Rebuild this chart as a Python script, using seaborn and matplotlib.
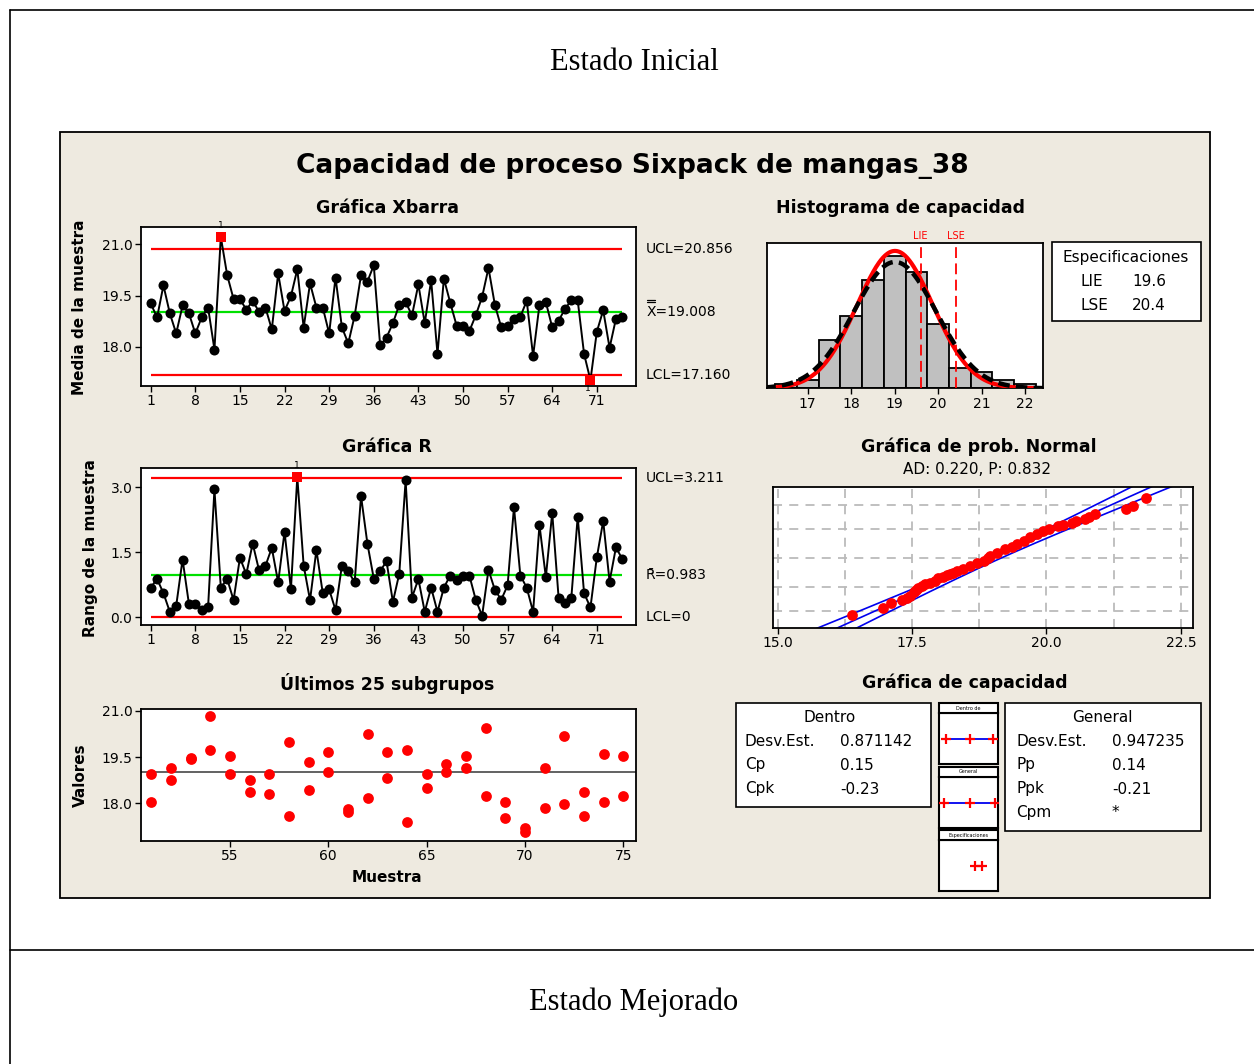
import math
import numpy as np
import pandas as pd
import matplotlib
matplotlib.use("Agg")
import matplotlib.pyplot as plt
import matplotlib.transforms as mtransforms
from matplotlib.patches import Rectangle
from matplotlib.lines import Line2D
import seaborn as sns

sns.set_style("white")
plt.rcParams["font.family"] = ["DejaVu Sans"]
plt.rcParams["text.color"] = "black"
plt.rcParams["axes.labelcolor"] = "black"
plt.rcParams["xtick.color"] = "black"
plt.rcParams["ytick.color"] = "black"

# ---------------- data ----------------
samples = list(range(1, 76))
xbar = [19.27, 18.86, 19.80, 18.98, 18.39, 19.21, 18.98, 18.39, 18.86, 19.15,
        17.92, 21.22, 20.10, 19.40, 19.40, 19.09, 19.34, 19.03, 19.15, 18.51,
        20.15, 19.05, 19.48, 20.27, 18.56, 19.86, 19.15, 19.15, 18.39, 20.03,
        18.57, 18.10, 18.91, 20.10, 19.91, 20.39, 18.04, 18.27, 18.69, 19.23,
        19.31, 18.92, 19.83, 18.69, 19.95, 17.79, 20.00, 19.29, 18.62, 18.62,
        18.46, 18.92, 19.46, 20.31, 19.23, 18.57, 18.62, 18.81, 18.88, 19.35,
        17.73, 19.23, 19.31, 18.57, 18.76, 19.11, 19.36, 19.36, 17.79, 17.02,
        18.44, 19.07, 17.97, 18.82, 18.87]
ranges = [0.68, 0.88, 0.55, 0.12, 0.26, 1.33, 0.30, 0.30, 0.16, 0.22,
          2.95, 0.68, 0.88, 0.39, 1.37, 0.99, 1.70, 1.08, 1.18, 1.60,
          0.80, 1.97, 0.64, 3.24, 1.19, 0.39, 1.55, 0.55, 0.64, 0.16,
          1.19, 1.06, 0.80, 2.80, 1.70, 0.89, 1.06, 1.29, 0.35, 1.00,
          3.16, 0.45, 0.88, 0.12, 0.68, 0.12, 0.68, 0.96, 0.86, 0.94,
          0.96, 0.40, 0.03, 1.09, 0.63, 0.40, 0.73, 2.54, 0.96, 0.68,
          0.12, 2.13, 0.92, 2.41, 0.45, 0.32, 0.45, 2.32, 0.55, 0.22,
          1.38, 2.22, 0.82, 1.61, 1.34]
xbar_ucl, xbar_cl, xbar_lcl = 20.856, 19.008, 17.160
r_ucl, r_cl, r_lcl = 3.211, 0.983, 0.0

last_samples = list(range(51, 76))
last_v1 = [18.95, 19.14, 19.46, 20.83, 19.53, 18.75, 18.95, 19.98, 19.33, 19.65,
           17.81, 20.24, 19.65, 19.73, 18.95, 19.28, 19.54, 20.44, 18.04, 17.21,
           19.13, 20.19, 18.37, 19.60, 19.53]
last_v2 = [18.04, 18.75, 19.44, 19.72, 18.95, 18.37, 18.29, 17.59, 18.43, 19.02,
           17.72, 18.17, 18.82, 17.40, 18.50, 19.02, 19.13, 18.24, 17.53, 17.06,
           17.85, 17.98, 17.59, 18.04, 18.24]

hist_edges = [16.25, 16.75, 17.25, 17.75, 18.25, 18.75, 19.25, 19.75,
              20.25, 20.75, 21.25, 21.75, 22.25]
hist_counts = [1, 2, 12, 18, 27, 33, 29, 16, 5, 4, 2, 1]
hist_ticks = [17, 18, 19, 20, 21, 22]

lie, lse = 19.6, 20.4
mean_all = 19.008
sd_within = 0.871142
sd_overall = 0.947235
n_obs = 150

prob_values = [16.39, 16.96, 17.11, 17.32, 17.40, 17.47, 17.53, 17.58, 17.62, 17.68,
               17.75, 17.84, 17.93, 17.99, 18.08, 18.15, 18.21, 18.27, 18.33, 18.45,
               18.58, 18.70, 18.83, 18.92, 18.95, 19.08, 19.23, 19.35, 19.45, 19.58,
               19.70, 19.82, 19.94, 20.05, 20.22, 20.30, 20.47, 20.55, 20.72, 20.80,
               20.91, 21.48, 21.61, 21.85]
prob_pct = [0.6, 1.5, 2.4, 3.4, 4.2, 5.0, 6.7, 7.8, 9.5, 11.0,
            12.7, 14.0, 15.4, 18.7, 20.5, 22.5, 24.2, 26.0, 28.1, 32.0,
            35.9, 40.5, 45.2, 50.5, 54.0, 59.0, 65.2, 69.0, 72.9, 77.0,
            81.6, 85.0, 88.3, 90.0, 92.1, 92.8, 93.7, 94.5, 95.5, 96.3,
            97.3, 98.3, 98.9, 99.56]
prob_grid_pct = [1, 10, 50, 90, 99]
prob_xticks = [15.0, 17.5, 20.0, 22.5]

within_rows = [("Desv.Est.", "0.871142"), ("Cp", "0.15"), ("Cpk", "-0.23")]
overall_rows = [("Desv.Est.", "0.947235"), ("Pp", "0.14"), ("Ppk", "-0.21"), ("Cpm", "*")]

# ---------------- helpers ----------------
W, H = 1254, 1064
fig = plt.figure(figsize=(W / 100, H / 100), dpi=100, facecolor="white")


def px_ax(x0, y0, x1, y1):
    return fig.add_axes([x0 / W, 1 - y1 / H, (x1 - x0) / W, (y1 - y0) / H])


def ftext(x, y, s, **kw):
    return fig.text(x / W, 1 - y / H, s, **kw)


def fbox(x0, y0, x1, y1, fc="white", lw=1.2, z=1):
    r = Rectangle((x0 / W, 1 - y1 / H), (x1 - x0) / W, (y1 - y0) / H,
                  transform=fig.transFigure, facecolor=fc, edgecolor="black",
                  lw=lw, zorder=z)
    fig.add_artist(r)


def fline(x0, y0, x1, y1, lw=1.2, z=2):
    fig.add_artist(Line2D([x0 / W, x1 / W], [1 - y0 / H, 1 - y1 / H],
                          transform=fig.transFigure, color="black", lw=lw,
                          zorder=z))


def style_ax(ax, left=True, bottom=True):
    for s in ax.spines.values():
        s.set_color("black")
        s.set_linewidth(1.3)
        s.set_visible(True)
    ax.set_facecolor("white")
    ax.tick_params(axis="both", direction="out", length=4, width=1, color="black",
                   labelsize=10, labelcolor="black", pad=2,
                   left=left, bottom=bottom, right=False, top=False,
                   labelleft=left, labelbottom=bottom)
    ax.set_xlabel("")
    ax.set_ylabel("")


def norm_pdf(x, mu, sd):
    return np.exp(-0.5 * ((x - mu) / sd) ** 2) / (sd * math.sqrt(2 * math.pi))


_zgrid = np.linspace(-7, 7, 28001)
_cdf = np.array([0.5 * (1 + math.erf(z / math.sqrt(2))) for z in _zgrid])


def ppf(p):
    return np.interp(np.asarray(p, dtype=float), _cdf, _zgrid)


def bar_label(ax, yval, txt):
    tr = mtransforms.blended_transform_factory(ax.transAxes, ax.transData)
    ax.text(1.021, yval, txt, transform=tr, va="center", fontsize=10,
            color="black")


# ---------------- page frame ----------------
fline(10, 10, 1254, 10)
fline(10, 10, 10, 1064)
fline(10, 950, 1254, 950)
ftext(634, 63, "Estado Inicial", ha="center", va="center", fontsize=22,
      family="Liberation Serif")
ftext(634, 1002, "Estado Mejorado", ha="center", va="center", fontsize=22,
      family="Liberation Serif")

fbox(60, 132, 1210, 898, fc="#EEEAE0", lw=1.3, z=-5)
ftext(632, 166, "Capacidad de proceso Sixpack de mangas_38", ha="center",
      va="center", fontsize=19, fontweight="bold")

black_kw = dict(color="black", s=52, linewidth=0, zorder=4)
red_sq_kw = dict(color="red", marker="s", s=52, linewidth=0, zorder=5)

# ---------------- Xbar chart ----------------
ax = px_ax(140.7, 226.7, 635.7, 386)
df_x = pd.DataFrame({"m": samples, "v": xbar})
ooc_x = (df_x["v"] > xbar_ucl) | (df_x["v"] < xbar_lcl)
ax.hlines([xbar_ucl, xbar_lcl], 1, 75, color="red", lw=1.6, zorder=2)
ax.hlines(xbar_cl, 1, 75, color="#00E000", lw=1.6, zorder=2)
sns.lineplot(data=df_x, x="m", y="v", ax=ax, color="black", lw=1.4, zorder=3)
sns.scatterplot(data=df_x[~ooc_x], x="m", y="v", ax=ax, **black_kw)
sns.scatterplot(data=df_x[ooc_x], x="m", y="v", ax=ax, **red_sq_kw)
for _, r in df_x[ooc_x].iterrows():
    up = r["v"] > xbar_ucl
    ax.annotate("1", (r["m"], r["v"]), xytext=(0, 5) if up else (-2, -3),
                textcoords="offset points", ha="center",
                va="bottom" if up else "top", fontsize=6.5, annotation_clip=False)
ax.set_xlim(-0.57, 77.1)
ax.set_ylim(16.85, 21.52)
ax.set_xticks(list(range(1, 72, 7)))
ax.set_yticks([18.0, 19.5, 21.0])
ax.set_yticklabels(["18.0", "19.5", "21.0"])
style_ax(ax)
bar_label(ax, xbar_ucl, "UCL=20.856")
bar_label(ax, xbar_cl, "X=19.008")
bar_label(ax, xbar_lcl, "LCL=17.160")
# double bar over the X of the grand-mean label
fline(647, 299.5, 655, 299.5, lw=0.9)
fline(647, 302.2, 655, 302.2, lw=0.9)
ftext(387, 208, "Gráfica Xbarra", ha="center", va="center", fontsize=12.5,
      fontweight="bold")
ftext(80, 307, "Media de la muestra", ha="center", va="center", rotation=90,
      fontsize=11, fontweight="bold")

# ---------------- R chart ----------------
ax = px_ax(140.7, 468.3, 635.7, 625)
df_r = pd.DataFrame({"m": samples, "v": ranges})
ooc_r = df_r["v"] > r_ucl
ax.hlines([r_ucl, r_lcl], 1, 75, color="red", lw=1.6, zorder=2)
ax.hlines(r_cl, 1, 75, color="#00E000", lw=1.6, zorder=2)
sns.lineplot(data=df_r, x="m", y="v", ax=ax, color="black", lw=1.4, zorder=3)
sns.scatterplot(data=df_r[~ooc_r], x="m", y="v", ax=ax, **black_kw)
sns.scatterplot(data=df_r[ooc_r], x="m", y="v", ax=ax, **red_sq_kw)
for _, r in df_r[ooc_r].iterrows():
    ax.annotate("1", (r["m"], r["v"]), xytext=(0, 5), textcoords="offset points",
                ha="center", va="bottom", fontsize=6.5, annotation_clip=False)
ax.set_xlim(-0.57, 77.1)
ax.set_ylim(-0.185, 3.44)
ax.set_xticks(list(range(1, 72, 7)))
ax.set_yticks([0.0, 1.5, 3.0])
ax.set_yticklabels(["0.0", "1.5", "3.0"])
style_ax(ax)
bar_label(ax, r_ucl, "UCL=3.211")
bar_label(ax, r_cl, "R\u0304=0.983")
bar_label(ax, r_lcl, "LCL=0")
ftext(387, 447, "Gráfica R", ha="center", va="center", fontsize=12.5,
      fontweight="bold")
ftext(90, 548, "Rango de la muestra", ha="center", va="center", rotation=90,
      fontsize=11, fontweight="bold")

# ---------------- last 25 subgroups ----------------
ax = px_ax(141, 709.3, 635.7, 841)
df_l = pd.DataFrame({"m": last_samples * 2, "v": last_v1 + last_v2})
ax.axhline(xbar_cl, color="#555555", lw=1.3, zorder=2)
sns.scatterplot(data=df_l, x="m", y="v", ax=ax, color="red", s=60, linewidth=0,
                zorder=4)
ax.set_xlim(50.48, 75.63)
ax.set_ylim(16.78, 21.045)
ax.set_xticks([55, 60, 65, 70, 75])
ax.set_yticks([18.0, 19.5, 21.0])
ax.set_yticklabels(["18.0", "19.5", "21.0"])
style_ax(ax)
ftext(387, 683, "Últimos 25 subgrupos", ha="center", va="center", fontsize=12.5,
      fontweight="bold")
ftext(80, 775, "Valores", ha="center", va="center", rotation=90, fontsize=11,
      fontweight="bold")
ftext(387, 878, "Muestra", ha="center", va="center", fontsize=11,
      fontweight="bold")

# ---------------- capability histogram ----------------
ax = px_ax(767.3, 242.7, 1043.3, 388.3)
centers = [(a + b) / 2 for a, b in zip(hist_edges[:-1], hist_edges[1:])]
sns.histplot(x=centers, weights=hist_counts, bins=hist_edges, ax=ax,
             color="#C0C0C0", edgecolor="black", linewidth=1.3, alpha=1)
bw = hist_edges[1] - hist_edges[0]
xs = np.linspace(16.0, 22.5, 400)
ax.plot(xs, norm_pdf(xs, mean_all, sd_within) * n_obs * bw, color="red",
        lw=3.0, zorder=3)
ax.plot(xs, norm_pdf(xs, mean_all, sd_overall) * n_obs * bw, color="black",
        lw=3.2, dashes=(2.6, 1.4), zorder=4)
for v, lab in [(lie, "LIE"), (lse, "LSE")]:
    ax.axvline(v, color="red", lw=1.3, dashes=(6, 3), zorder=5)
    ax.text(v, 1.015, lab, transform=mtransforms.blended_transform_factory(
        ax.transData, ax.transAxes), ha="center", va="bottom", color="red",
        fontsize=7)
ax.set_xlim(16.07, 22.42)
ax.set_ylim(0, 36.4)
ax.set_xticks(hist_ticks)
ax.set_yticks([])
style_ax(ax, left=False)
ftext(901, 208, "Histograma de capacidad", ha="center", va="center",
      fontsize=12.5, fontweight="bold")
fbox(1052, 242, 1201, 321)
ftext(1126, 258, "Especificaciones", ha="center", va="center", fontsize=11)
ftext(1080, 282, "LIE", ha="left", va="center", fontsize=11)
ftext(1132, 282, "19.6", ha="left", va="center", fontsize=11)
ftext(1080, 306, "LSE", ha="left", va="center", fontsize=11)
ftext(1132, 306, "20.4", ha="left", va="center", fontsize=11)

# ---------------- normal probability plot ----------------
ax = px_ax(772.7, 487, 1193.3, 628)
gz = ppf(np.array(prob_grid_pct) / 100)
for g in gz:
    ax.axhline(g, color="#BBBBBB", lw=1.3, dashes=(5, 4), zorder=1)
for g in [15.0, 16.25, 17.5, 18.75, 20.0, 21.25, 22.5]:
    ax.axvline(g, color="#BBBBBB", lw=1.3, dashes=(5, 4), zorder=1)
zl = np.linspace(-3.5, 3.5, 300)
fit = mean_all + sd_overall * zl
half = 1.96 * sd_overall / math.sqrt(n_obs) * np.sqrt(1 + zl ** 2 / 2)
for xx in (fit, fit - half, fit + half):
    ax.plot(xx, zl, color="#0000EE", lw=1.2, zorder=2)
df_p = pd.DataFrame({"x": prob_values, "z": ppf(np.array(prob_pct) / 100)})
sns.scatterplot(data=df_p, x="x", y="z", ax=ax, color="red", s=60, linewidth=0,
                zorder=4)
ax.set_xlim(14.91, 22.73)
ax.set_ylim(-3.06, 3.10)
ax.set_xticks(prob_xticks)
ax.set_xticklabels(["15.0", "17.5", "20.0", "22.5"])
ax.set_xticks([16.25, 18.75, 21.25], minor=True)
ax.set_yticks([])
style_ax(ax, left=False)
ax.tick_params(axis="x", which="minor", direction="out", length=3, color="black")
ftext(979, 447, "Gráfica de prob. Normal", ha="center", va="center",
      fontsize=12.5, fontweight="bold")
ftext(977, 469, "AD: 0.220, P: 0.832", ha="center", va="center", fontsize=11)

# ---------------- capability plot ----------------
ftext(965, 683, "Gráfica de capacidad", ha="center", va="center", fontsize=12.5,
      fontweight="bold")
fbox(736, 703, 931, 807)
ftext(830, 717, "Dentro", ha="center", va="center", fontsize=11)
for i, (lab, val) in enumerate(within_rows):
    ftext(745, 741 + 24 * i, lab, ha="left", va="center", fontsize=11)
    ftext(840, 741 + 24 * i, val, ha="left", va="center", fontsize=11)
fbox(1005, 703, 1201, 831)
ftext(1102, 717, "General", ha="center", va="center", fontsize=11)
for i, (lab, val) in enumerate(overall_rows):
    ftext(1016, 741 + 24 * i, lab, ha="left", va="center", fontsize=11)
    ftext(1112, 741 + 24 * i, val, ha="left", va="center", fontsize=11)

panels = [("Dentro de", 703, 713, 764, [mean_all - 3 * sd_within, mean_all,
                                         mean_all + 3 * sd_within]),
          ("General", 766.5, 777, 828, [mean_all - 3 * sd_overall, mean_all,
                                         mean_all + 3 * sd_overall]),
          ("Especificaciones", 830, 840, 891, [lie, lse])]
for name, ytop, ymid, ybot, pts in panels:
    fbox(939.3, ytop, 997.7, ymid, lw=1.5)
    ftext(968.5, (ytop + ymid) / 2, name, ha="center", va="center", fontsize=3.5)
    pax = px_ax(939.3, ymid, 997.7, ybot)
    if len(pts) == 3:
        pax.plot([pts[0], pts[-1]], [0, 0], color="#0000EE", lw=1.3, zorder=2)
    pax.plot(pts, [0] * len(pts), ls="none", marker="+", color="red",
             markersize=7, mew=1.6, zorder=3)
    pax.set_xlim(15.61, 22.1)
    pax.set_ylim(-1, 1)
    pax.set_xticks([])
    pax.set_yticks([])
    for s in pax.spines.values():
        s.set_linewidth(1.5)
        s.set_color("black")

fig.savefig("out.png", dpi=100, facecolor="white")
